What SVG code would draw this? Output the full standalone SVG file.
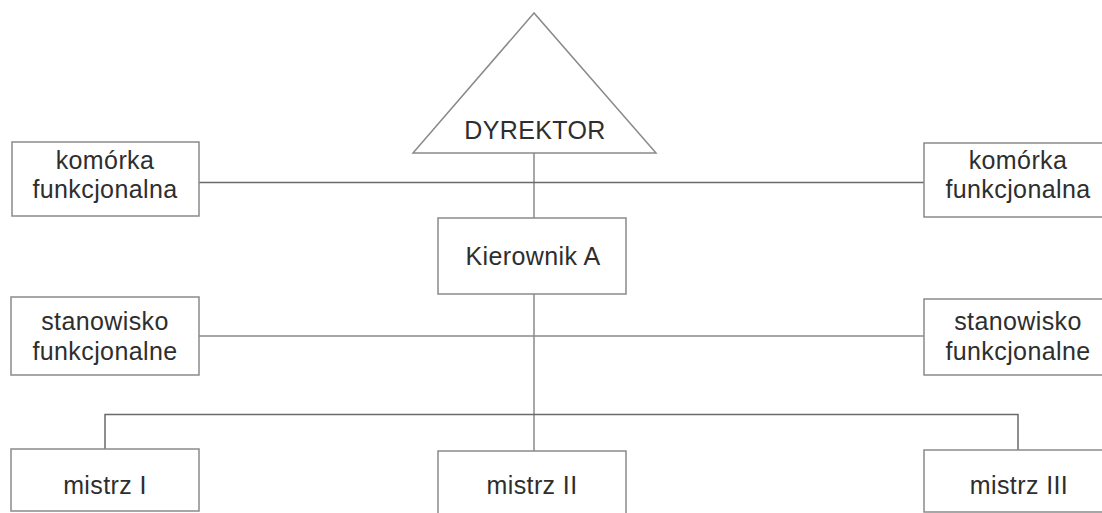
<svg xmlns="http://www.w3.org/2000/svg" width="1102" height="513" viewBox="0 0 1102 513">
<style>
.bg{fill:#ffffff}
.box{fill:#ffffff;stroke:#8a8a8a;stroke-width:1.5}
.ln{fill:none;stroke:#8a8a8a;stroke-width:1.5}
.lnd{fill:none;stroke:#6a6a6a;stroke-width:1.5}
text{font-family:"Liberation Sans",Arial,sans-serif;font-size:25px;fill:#2e2e2e;text-anchor:middle;letter-spacing:0.4px}
</style>
<rect class="bg" x="0" y="0" width="1102" height="513"/>
<g id="connectors">
  <line class="ln" x1="534" y1="153" x2="534" y2="218"/>
  <line class="lnd" x1="199" y1="182.5" x2="924" y2="182.5"/>
  <line class="ln" x1="534" y1="294" x2="534" y2="451"/>
  <line class="ln" x1="199" y1="336" x2="924" y2="336"/>
  <polyline class="lnd" points="105,449 105,414.5 1018,414.5 1018,450"/>
</g>
<g id="dyrektor">
  <polygon class="box" points="534,13 413,153 656,153"/>
  <text x="535" y="139">DYREKTOR</text>
</g>
<g id="kierownik">
  <rect class="box" x="438" y="218" width="188" height="76"/>
  <text x="533" y="265">Kierownik A</text>
</g>
<g id="komorka-left">
  <rect class="box" x="12" y="142" width="187" height="74"/>
  <text x="105" y="169">komórka</text>
  <text x="105" y="198">funkcjonalna</text>
</g>
<g id="komorka-right">
  <rect class="box" x="924" y="143" width="188" height="74"/>
  <text x="1018" y="169">komórka</text>
  <text x="1018" y="198">funkcjonalna</text>
</g>
<g id="stanowisko-left">
  <rect class="box" x="11" y="297" width="188" height="78"/>
  <text x="105" y="330">stanowisko</text>
  <text x="105" y="360">funkcjonalne</text>
</g>
<g id="stanowisko-right">
  <rect class="box" x="924" y="299" width="188" height="76"/>
  <text x="1018" y="330">stanowisko</text>
  <text x="1018" y="360">funkcjonalne</text>
</g>
<g id="mistrz-1">
  <rect class="box" x="11" y="449" width="188" height="62"/>
  <text x="105" y="494">mistrz I</text>
</g>
<g id="mistrz-2">
  <rect class="box" x="438" y="451" width="188" height="80"/>
  <text x="532" y="494">mistrz II</text>
</g>
<g id="mistrz-3">
  <rect class="box" x="924" y="450" width="188" height="62"/>
  <text x="1019" y="494">mistrz III</text>
</g>
</svg>
